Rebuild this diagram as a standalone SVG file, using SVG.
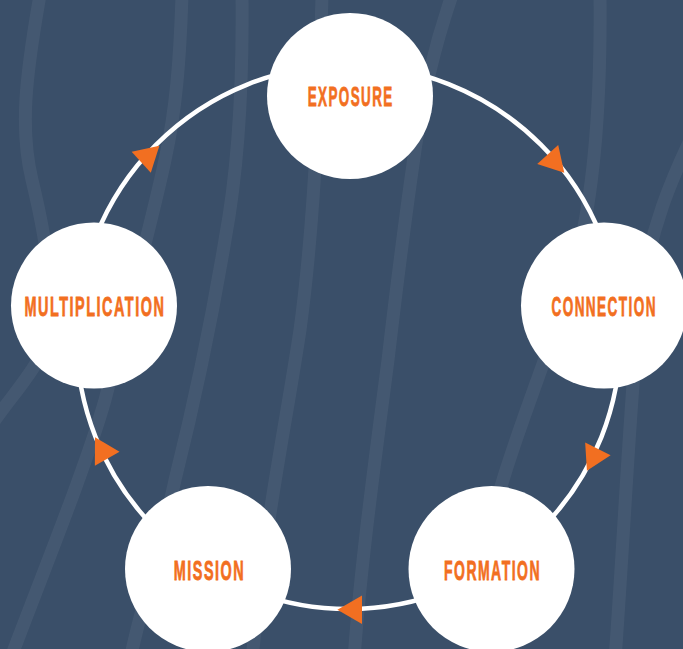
<svg xmlns="http://www.w3.org/2000/svg" width="683" height="649" viewBox="0 0 683 649">
  <defs>
    <style>
      .band { fill: none; stroke: #ffffff; stroke-opacity: 0.055; stroke-width: 13; stroke-linecap: round; }
      .ring { fill: none; stroke: #ffffff; stroke-width: 4.5; }
      .node { fill: #ffffff; }
      .label { font-family: "Liberation Sans", Arial, sans-serif; font-weight: bold; font-size: 28.5px; letter-spacing: 3px; fill: #f26f21; stroke: #f26f21; stroke-width: 0.8; text-anchor: middle; }
      .arrow { fill: #f26f21; }
    </style>
    <path id="tri" d="M12.3,0 L-12.3,-14.2 L-12.3,14.2 Z"/>
  </defs>

  <rect x="0" y="0" width="683" height="649" fill="#3a4f69"/>

  <g id="background-bands">
    <path class="band" d="M40,-5 C25,80 20,130 32,180 S52,270 48,330 C45,360 20,385 -5,420"/>
    <path class="band" d="M182,-5 C180,60 176,110 165,160 C150,230 125,320 105,400 C85,470 40,580 10,660"/>
    <path class="band" d="M242,-5 C243,80 238,170 225,240 C210,330 195,400 175,480 C160,550 140,610 130,660"/>
    <path class="band" d="M322,-5 C320,80 315,220 300,330 C285,430 265,520 252,660"/>
    <path class="band" d="M452,-5 C440,30 425,80 415,150 C402,240 395,300 388,360 C375,460 360,570 354,660"/>
    <path class="band" d="M600,-5 C601,90 596,190 575,265 C555,340 520,420 500,490 C490,540 482,600 478,660"/>
    <path class="band" d="M700,120 C670,180 650,230 640,300 C630,400 625,520 615,660"/>
  </g>

  <g id="connectors">
    <circle class="ring" cx="348.5" cy="337" r="272"/>
    <use href="#tri" class="arrow" transform="translate(556,163.6) rotate(47.6)"/>
    <use href="#tri" class="arrow" transform="translate(592.4,459.8) rotate(116.5)"/>
    <use href="#tri" class="arrow" transform="translate(349.7,609.8) rotate(180)"/>
    <use href="#tri" class="arrow" transform="translate(101.1,448) rotate(240.3)"/>
    <use href="#tri" class="arrow" transform="translate(150.3,154) rotate(-42.4)"/>
  </g>

  <g id="node-exposure">
    <circle class="node" cx="350" cy="96" r="83"/>
    <text class="label" x="350.7" y="106.3" textLength="86" lengthAdjust="spacingAndGlyphs">EXPOSURE</text>
  </g>
  <g id="node-connection">
    <circle class="node" cx="604" cy="305.5" r="83"/>
    <text class="label" x="604.2" y="316.3" textLength="105.6" lengthAdjust="spacingAndGlyphs">CONNECTION</text>
  </g>
  <g id="node-formation">
    <circle class="node" cx="491.5" cy="569" r="83"/>
    <text class="label" x="492.5" y="580" textLength="97" lengthAdjust="spacingAndGlyphs">FORMATION</text>
  </g>
  <g id="node-mission">
    <circle class="node" cx="208" cy="569" r="83"/>
    <text class="label" x="209.5" y="580" textLength="71.6" lengthAdjust="spacingAndGlyphs">MISSION</text>
  </g>
  <g id="node-multiplication">
    <circle class="node" cx="94" cy="305.5" r="83"/>
    <text class="label" x="94.9" y="316.3" textLength="141" lengthAdjust="spacingAndGlyphs">MULTIPLICATION</text>
  </g>
</svg>
